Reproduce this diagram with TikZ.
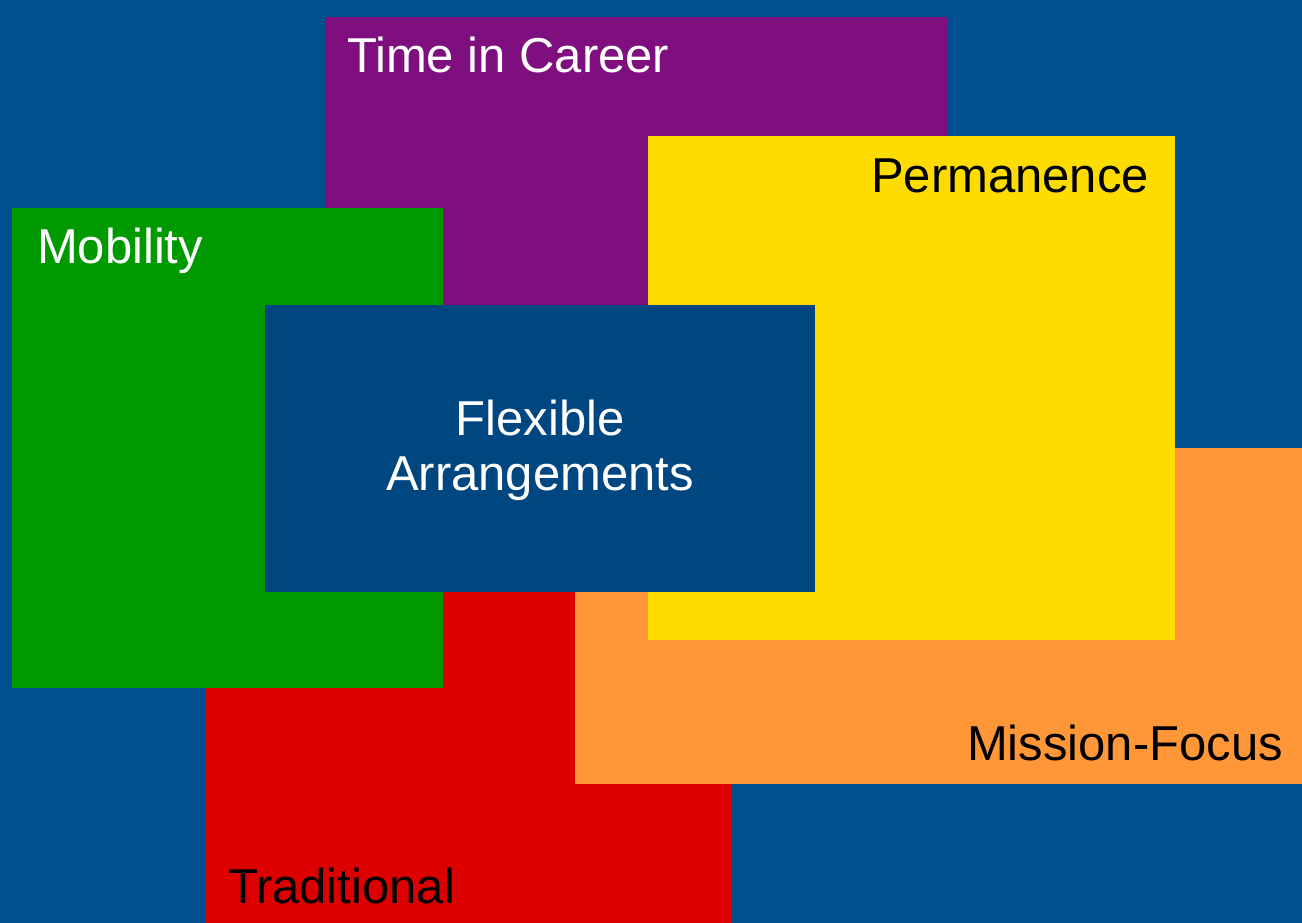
\documentclass[tikz,border=0pt]{standalone}
\usepackage{fontspec}
\setmainfont{Liberation Sans}
\definecolor{bgblue}{RGB}{0,80,145}
\definecolor{ctrblue}{RGB}{0,70,128}
\definecolor{cpurple}{RGB}{127,15,126}
\definecolor{cyellow}{RGB}{254,220,0}
\definecolor{cgreen}{RGB}{0,153,0}
\definecolor{cred}{RGB}{221,0,0}
\definecolor{corange}{RGB}{255,150,56}
\tikzset{
  panel/.style={inner sep=0pt, outer sep=0pt, anchor=north west, draw=none},
  lbl/.style={inner sep=0pt, outer sep=0pt, font=\fontsize{49}{55}\selectfont},
}
\newcommand{\panelbox}[6]{% name, color, x1, y1, x2, y2
  \node[panel, fill=#2, minimum width={(#5-#3)*1pt}, minimum height={(#6-#4)*1pt}] (#1) at (#3,#4) {};
}
\begin{document}
\begin{tikzpicture}[x=1pt,y=-1pt]
\useasboundingbox (0,0) rectangle (1302,923);
\fill[bgblue] (0,0) rectangle (1302,923);
\panelbox{red}{cred}{205}{550}{731}{923}
\panelbox{purple}{cpurple}{325}{17}{947}{400}
\panelbox{orange}{corange}{575}{448}{1302}{784}
\panelbox{yellow}{cyellow}{648}{136}{1175}{640}
\panelbox{green}{cgreen}{12}{208}{443}{688}
\panelbox{center}{ctrblue}{265}{305}{815}{592}
\node[lbl, text=white, anchor=base west] (tcareer) at (347,73) {Time in Career};
\node[lbl, text=black, anchor=base east] (tperm) at (1149,193) {Permanence};
\node[lbl, text=white, anchor=base west] (tmob) at (37,263) {Mobility};
\node[lbl, text=white, align=center, anchor=base] (tflex) at (540,490) {Flexible\\Arrangements};
\node[lbl, text=black, anchor=base east] (tmiss) at (1283,760) {Mission-Focus};
\node[lbl, text=black, anchor=base west] (ttrad) at (228,903) {Traditional};
\end{tikzpicture}
\end{document}
